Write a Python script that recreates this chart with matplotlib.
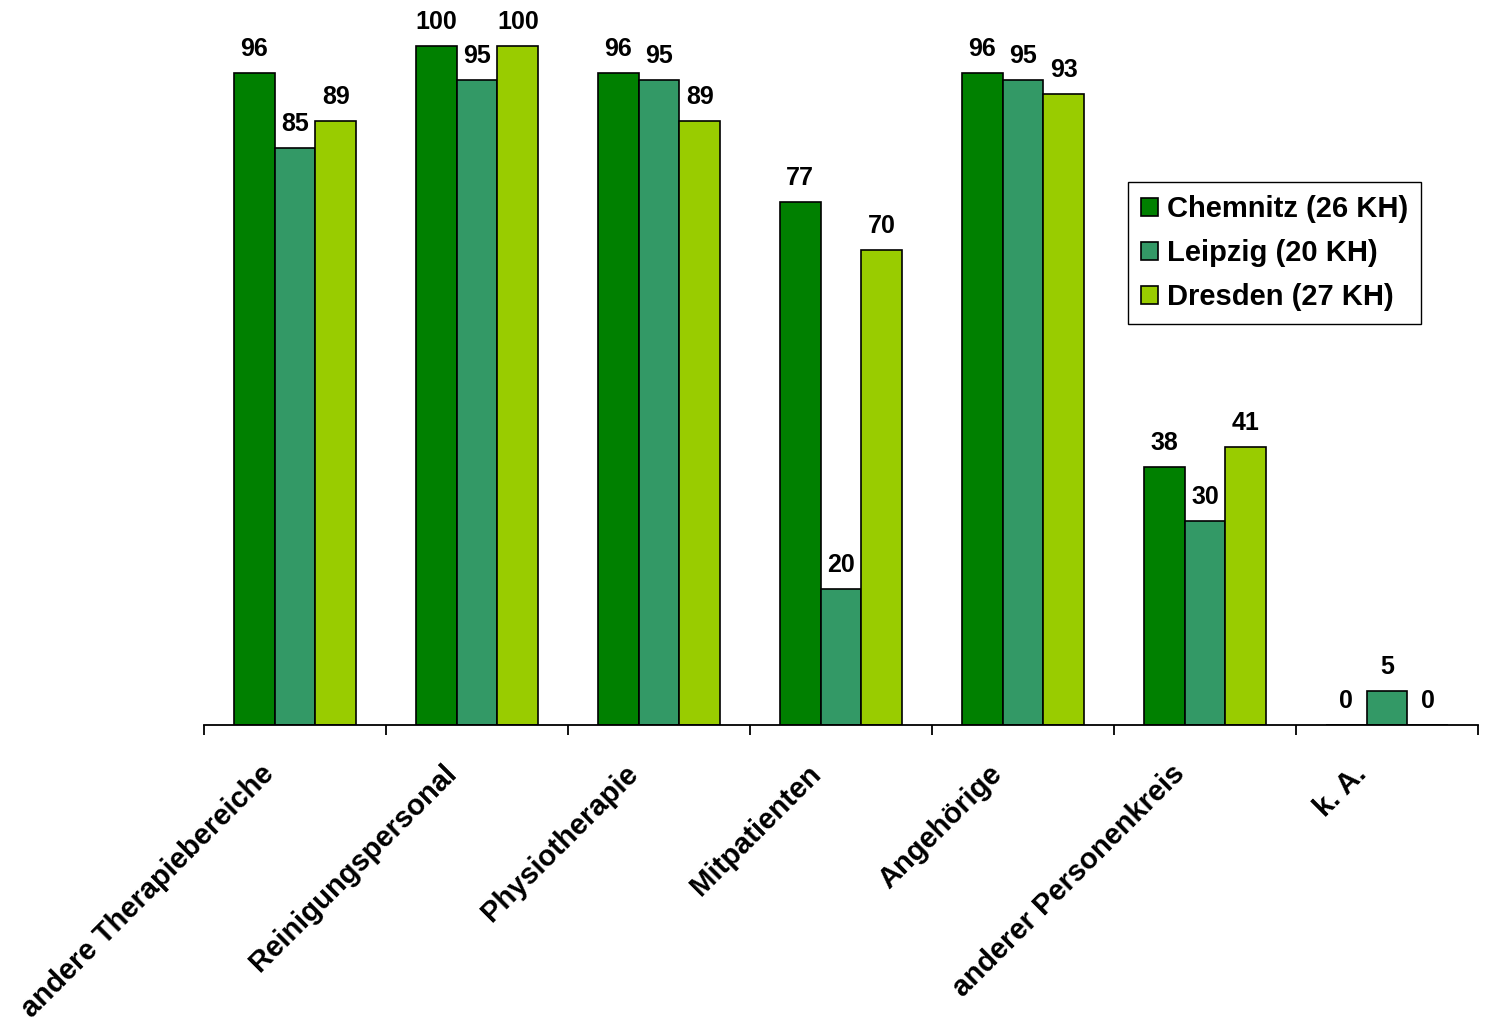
import numpy as np
import matplotlib
matplotlib.use("Agg")
import matplotlib.pyplot as plt
from matplotlib.transforms import ScaledTranslation

plt.rcParams["font.family"] = ["Liberation Sans", "DejaVu Sans"]
plt.rcParams["font.weight"] = "bold"

# Data
categories = ["andere Therapiebereiche", "Reinigungspersonal", "Physiotherapie",
              "Mitpatienten", "Angehörige", "anderer Personenkreis", "k. A."]
series_names = ["Chemnitz (26 KH)", "Leipzig (20 KH)", "Dresden (27 KH)"]
chemnitz = [96, 100, 96, 77, 96, 38, 0]
leipzig  = [85, 95, 95, 20, 95, 30, 5]
dresden  = [89, 100, 89, 70, 93, 41, 0]
colors   = ["#008000", "#339966", "#99CC00"]

fig = plt.figure(figsize=(14.85, 10.22), dpi=100)
ax = fig.add_axes([204 / 1485, 297 / 1022, 1274 / 1485, 725 / 1022])

x = np.arange(len(categories))
width = 0.225
for i, (vals, name, col) in enumerate(zip([chemnitz, leipzig, dresden], series_names, colors)):
    pos = x + (i - 1) * width
    ax.bar(pos, vals, width=width, color=col, edgecolor="black", linewidth=1.2, label=name)
    for px, v in zip(pos, vals):
        ax.annotate(f"{v}", xy=(px, v), xytext=(0, 17.3), textcoords="offset points",
                    ha="center", va="center", fontsize=18, fontweight="bold")

ax.set_xlim(-0.5, len(categories) - 0.5)
ax.set_ylim(0, 106.8)

for side in ["top", "right", "left"]:
    ax.spines[side].set_visible(False)
ax.spines["bottom"].set_linewidth(1.3)
ax.set_yticks([])

# ticks between categories, labels at category centres
ax.set_xticks(x)
ax.set_xticklabels(categories, rotation=45, ha="right", va="center",
                   rotation_mode="anchor", fontsize=21, fontweight="bold")
ax.tick_params(axis="x", which="major", length=0, pad=32)
ax.set_xticks(np.arange(len(categories) + 1) - 0.5, minor=True)
ax.tick_params(axis="x", which="minor", length=7, width=1.3, direction="out")
offset = ScaledTranslation(-0.25, 0, fig.dpi_scale_trans)
for lab in ax.get_xticklabels():
    lab.set_transform(lab.get_transform() + offset)

leg = ax.legend(loc="upper left", bbox_to_anchor=(0.725, 0.749), borderaxespad=0,
                fontsize=21, frameon=True, fancybox=False, framealpha=1,
                handlelength=0.6, handleheight=0.6, handletextpad=0.3,
                labelspacing=0.55, borderpad=0.45)
leg.get_frame().set_edgecolor("black")
leg.get_frame().set_linewidth(1.0)
for t in leg.get_texts():
    t.set_fontweight("bold")

plt.savefig("out.png", dpi=100)
plt.close()
